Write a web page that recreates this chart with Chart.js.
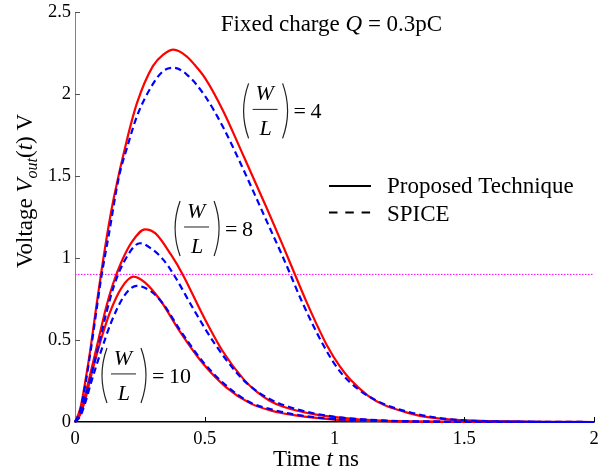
<!DOCTYPE html>
<html>
<head>
<meta charset="utf-8">
<script src="https://cdn.jsdelivr.net/npm/chart.js@4.4.1/dist/chart.umd.min.js"></script>
<style>
html, body { margin: 0; padding: 0; background: #fff; }
</style>
</head>
<body>
<canvas id="vout" width="598" height="472"></canvas>
<script>
'use strict';

// ===== DATA (time in ns, voltage in V) =====
const xTicks = [0, 0.5, 1, 1.5, 2];
const yTicks = [0, 0.5, 1, 1.5, 2, 2.5];
const threshold = 0.9;

// W/L = 4
const tProp4 = [0, 0.02, 0.04, 0.06, 0.08, 0.1, 0.13, 0.15, 0.2, 0.24, 0.3, 0.34, 0.38, 0.43, 0.46, 0.5, 0.57, 0.65, 0.74, 0.8, 0.85, 0.89, 0.93, 0.97, 1.02, 1.06, 1.13, 1.19, 1.27, 1.34, 1.44, 1.6, 1.8, 2.0];
const vProp4 = [0, 0.08, 0.25, 0.45, 0.68, 0.9, 1.2, 1.37, 1.72, 1.95, 2.17, 2.24, 2.27, 2.23, 2.18, 2.10, 1.90, 1.62, 1.30, 1.08, 0.89, 0.74, 0.60, 0.47, 0.34, 0.26, 0.16, 0.105, 0.062, 0.034, 0.016, 0.005, 0.001, 0];
const tSpice4 = [0, 0.02, 0.04, 0.06, 0.08, 0.1, 0.13, 0.17, 0.2, 0.24, 0.3, 0.34, 0.38, 0.43, 0.5, 0.57, 0.64, 0.74, 0.8, 0.83, 0.87, 0.96, 1.02, 1.1, 1.19, 1.3, 1.4, 1.5, 1.7, 2.0];
const vSpice4 = [0, 0.07, 0.23, 0.43, 0.65, 0.87, 1.14, 1.5, 1.67, 1.87, 2.06, 2.14, 2.16, 2.12, 1.99, 1.80, 1.57, 1.22, 1.01, 0.9, 0.75, 0.46, 0.31, 0.19, 0.11, 0.055, 0.025, 0.01, 0.002, 0];

// W/L = 8
const tProp8 = [0, 0.02, 0.04, 0.06, 0.09, 0.12, 0.146, 0.18, 0.22, 0.27, 0.31, 0.37, 0.415, 0.49, 0.57, 0.65, 0.7, 0.75, 0.8, 0.93, 1.06, 1.2, 1.5, 2.0];
const vProp8 = [0, 0.05, 0.17, 0.3, 0.5, 0.7, 0.84, 0.98, 1.1, 1.175, 1.15, 1.02, 0.9, 0.66, 0.43, 0.26, 0.185, 0.13, 0.095, 0.045, 0.02, 0.007, 0.001, 0];
const tSpice8 = [0, 0.02, 0.04, 0.06, 0.09, 0.12, 0.15, 0.19, 0.25, 0.3, 0.34, 0.38, 0.456, 0.533, 0.623, 0.674, 0.75, 0.85, 1.0, 1.2, 1.5, 2.0];
const vSpice8 = [0, 0.04, 0.15, 0.27, 0.46, 0.66, 0.83, 0.98, 1.09, 1.05, 0.99, 0.9, 0.69, 0.49, 0.3, 0.22, 0.14, 0.08, 0.032, 0.009, 0.001, 0];

// W/L = 10
const tProp10 = [0, 0.02, 0.04, 0.06, 0.096, 0.135, 0.18, 0.225, 0.27, 0.328, 0.405, 0.494, 0.584, 0.674, 0.75, 0.85, 1.0, 1.2, 1.5, 2.0];
const vProp10 = [0, 0.045, 0.14, 0.27, 0.48, 0.67, 0.82, 0.886, 0.85, 0.744, 0.55, 0.355, 0.21, 0.115, 0.072, 0.04, 0.015, 0.005, 0.001, 0];
const tSpice10 = [0, 0.02, 0.04, 0.06, 0.1, 0.14, 0.19, 0.238, 0.29, 0.34, 0.405, 0.494, 0.584, 0.674, 0.75, 0.85, 1.0, 1.2, 1.5, 2.0];
const vSpice10 = [0, 0.035, 0.12, 0.23, 0.43, 0.61, 0.77, 0.83, 0.8, 0.72, 0.56, 0.365, 0.22, 0.12, 0.08, 0.045, 0.018, 0.006, 0.001, 0];

const ratioLabels = ['4', '8', '10'];
// where each (W/L) label sits, in data units (left edge of bracket, vertical centre)
const ratioAnchors = [[0.642, 1.90], [0.378, 1.183], [0.0963, 0.287]];

const FONT = '"Liberation Serif", "Times New Roman", serif';
const RED = '#ff0000', BLUE = '#0000ff';

function pts(ts, vs) { return ts.map((t, i) => ({ x: t, y: vs[i] })); }

function propSet(ts, vs) {
    return { data: pts(ts, vs), borderColor: RED, borderWidth: 2.2, order: 2,
             pointRadius: 0, cubicInterpolationMode: 'monotone', clip: 6 };
}
function spiceSet(ts, vs) {
    return { data: pts(ts, vs), borderColor: BLUE, borderWidth: 2.2, borderDash: [6.5, 4], order: 1,
             pointRadius: 0, cubicInterpolationMode: 'monotone', clip: 6 };
}

// ===== EXTRA DRAWING: ticks, labels, legend, (W/L) notes =====
function drawRatio(ctx, L, C, rhs) {
    ctx.save();
    ctx.strokeStyle = '#222';
    ctx.lineWidth = 1.2;
    ctx.beginPath(); ctx.moveTo(L + 7, C - 27); ctx.quadraticCurveTo(L - 3, C + 0.5, L + 7, C + 28); ctx.stroke();
    ctx.beginPath(); ctx.moveTo(L + 41, C - 27); ctx.quadraticCurveTo(L + 51, C + 0.5, L + 41, C + 28); ctx.stroke();
    ctx.lineWidth = 1;
    ctx.beginPath(); ctx.moveTo(L + 11, C - 1); ctx.lineTo(L + 36, C - 1); ctx.stroke();
    ctx.fillStyle = '#000';
    ctx.textBaseline = 'alphabetic';
    ctx.textAlign = 'center';
    ctx.font = 'italic 22px ' + FONT;
    ctx.fillText('W', L + 23, C - 10);
    ctx.fillText('L', L + 24, C + 25);
    ctx.textAlign = 'left';
    ctx.font = '22px ' + FONT;
    ctx.fillText('=', L + 52, C + 8);
    ctx.fillText(rhs, L + 69, C + 8);
    ctx.restore();
}

// draws a list of [text, font, dy] pieces one after another
function drawRun(ctx, parts, x, y) {
    parts.forEach(([txt, font, dy]) => {
        ctx.font = font;
        ctx.fillText(txt, x, y + (dy || 0));
        x += ctx.measureText(txt).width;
    });
}
function runWidth(ctx, parts) {
    return parts.reduce((w, [txt, font]) => { ctx.font = font; return w + ctx.measureText(txt).width; }, 0);
}

const decorations = {
    id: 'decorations',
    afterDraw(chart) {
        const { ctx, chartArea: { left, bottom }, scales: { x, y } } = chart;
        ctx.save();

        // inward tick marks
        ctx.lineWidth = 1;
        ctx.strokeStyle = '#555';
        yTicks.forEach(v => {
            if (v === 0) return;
            const py = Math.round(y.getPixelForValue(v)) + 0.5;
            ctx.beginPath(); ctx.moveTo(left, py); ctx.lineTo(left + 5, py); ctx.stroke();
        });
        ctx.strokeStyle = '#000';
        xTicks.forEach(v => {
            if (v === 0) return;
            const px = Math.round(x.getPixelForValue(v)) + 0.5;
            ctx.beginPath(); ctx.moveTo(px, bottom); ctx.lineTo(px, bottom - 5); ctx.stroke();
        });

        ctx.fillStyle = '#000';
        ctx.textBaseline = 'alphabetic';
        ctx.textAlign = 'left';

        // title
        const reg = '23px ' + FONT, ita = 'italic 23px ' + FONT;
        const title = [['Fixed charge ', reg], ['Q', ita], [' = 0.3pC', reg]];
        drawRun(ctx, title, 331.5 - runWidth(ctx, title) / 2, 31);

        // x label
        const xl = [['Time ', reg], ['t', ita], [' ns', reg]];
        drawRun(ctx, xl, 316 - runWidth(ctx, xl) / 2, 466);

        // y label
        ctx.save();
        ctx.translate(32, 0);
        ctx.rotate(-Math.PI / 2);
        const yl = [['Voltage ', reg], ['V', ita], ['out', 'italic 16px ' + FONT, 5], ['(', reg], ['t', ita], [') V', reg]];
        drawRun(ctx, yl, -(191 + runWidth(ctx, yl) / 2), 0);
        ctx.restore();

        // legend
        ctx.strokeStyle = '#000';
        ctx.lineWidth = 2;
        ctx.beginPath(); ctx.moveTo(329, 186); ctx.lineTo(371, 186); ctx.stroke();
        ctx.setLineDash([8.5, 7.8]);
        ctx.beginPath(); ctx.moveTo(329, 212.5); ctx.lineTo(371, 212.5); ctx.stroke();
        ctx.setLineDash([]);
        ctx.font = reg;
        ctx.fillText('Proposed Technique', 387, 193);
        ctx.fillText('SPICE', 387, 221);

        // (W/L) notes
        ratioAnchors.forEach(([t, v], i) => {
            drawRatio(ctx, x.getPixelForValue(t), y.getPixelForValue(v), ratioLabels[i]);
        });
        ctx.restore();
    }
};

new Chart(document.getElementById('vout'), {
    type: 'line',
    data: {
        datasets: [
            { data: [{ x: 0, y: threshold }, { x: 2, y: threshold }], borderColor: '#ff00ff', borderWidth: 1,
              borderDash: [1.5, 1.5], pointRadius: 0, order: 3 },
            propSet(tProp4, vProp4), spiceSet(tSpice4, vSpice4),
            propSet(tProp8, vProp8), spiceSet(tSpice8, vSpice8),
            propSet(tProp10, vProp10), spiceSet(tSpice10, vSpice10),
        ]
    },
    options: {
        responsive: false,
        animation: false,
        layout: { padding: { top: 12, right: 4, left: 0, bottom: 0 } },
        plugins: { legend: { display: false }, tooltip: { enabled: false } },
        scales: {
            x: {
                type: 'linear', min: 0, max: 2,
                afterBuildTicks: s => { s.ticks = xTicks.map(v => ({ value: v })); },
                afterFit: s => { s.height = 50; s.paddingLeft = 0; s.paddingRight = 0; },
                grid: { display: false, drawTicks: false },
                border: { display: true, color: '#000', width: 1.5 },
                ticks: { color: '#000', font: { family: FONT, size: 18.5 }, padding: 6, maxRotation: 0,
                         callback: v => String(v) }
            },
            y: {
                min: 0, max: 2.5,
                afterBuildTicks: s => { s.ticks = yTicks.map(v => ({ value: v })); },
                afterFit: s => { s.width = 75; s.paddingTop = 0; s.paddingBottom = 0; },
                grid: { display: false, drawTicks: false },
                border: { display: true, color: '#808080', width: 1 },
                ticks: { color: '#000', font: { family: FONT, size: 18.5 }, padding: 4,
                         callback: v => String(v) }
            }
        }
    },
    plugins: [decorations]
});
</script>
</body>
</html>
